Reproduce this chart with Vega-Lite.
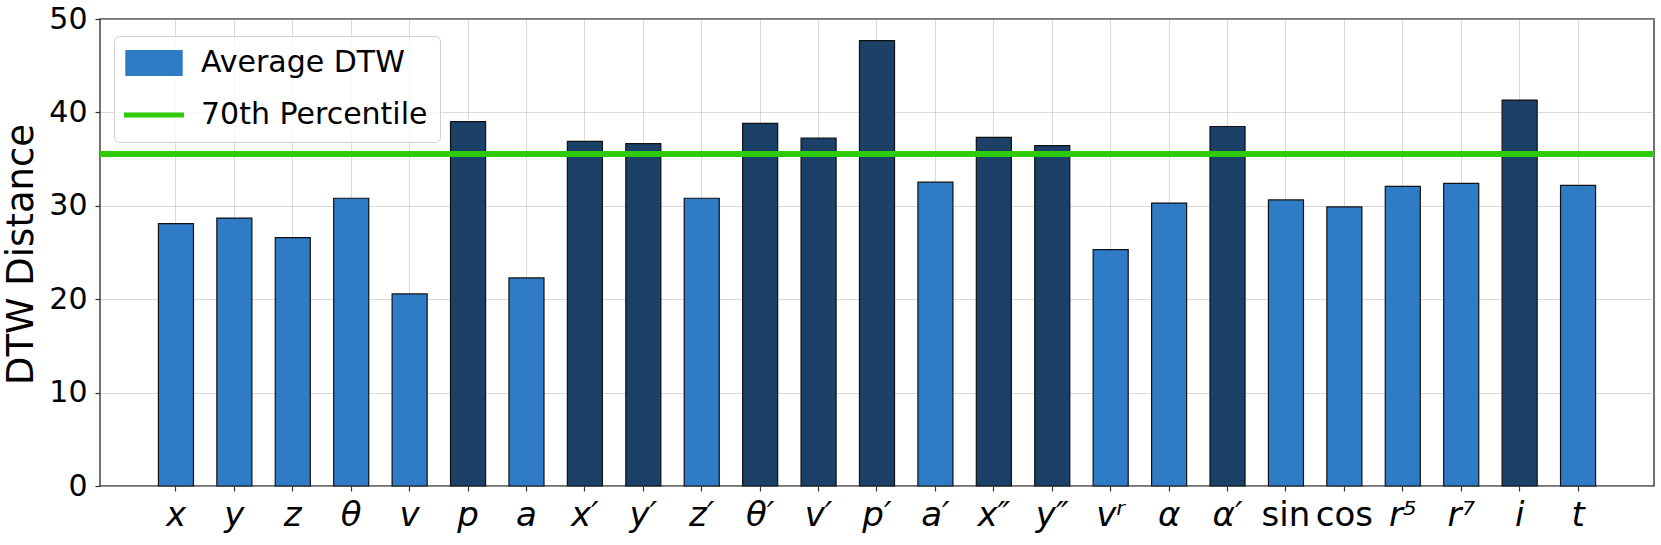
{
  "$schema": "https://vega.github.io/schema/vega-lite/v6.json",
  "autosize": {"type": "none"},
  "padding": {"left": 100, "top": 19, "right": 7, "bottom": 59},
  "width": 1554,
  "height": 467,
  "background": "white",
  "data": {
    "values": [
      {"feature": "x", "dtw": 28.09},
      {"feature": "y", "dtw": 28.69},
      {"feature": "z", "dtw": 26.60},
      {"feature": "θ", "dtw": 30.81},
      {"feature": "v", "dtw": 20.57},
      {"feature": "p", "dtw": 39.01},
      {"feature": "a", "dtw": 22.28},
      {"feature": "x′", "dtw": 36.89},
      {"feature": "y′", "dtw": 36.66},
      {"feature": "z′", "dtw": 30.81},
      {"feature": "θ′", "dtw": 38.82},
      {"feature": "v′", "dtw": 37.26},
      {"feature": "p′", "dtw": 47.69},
      {"feature": "a′", "dtw": 32.53},
      {"feature": "x″", "dtw": 37.33},
      {"feature": "y″", "dtw": 36.44},
      {"feature": "vʳ", "dtw": 25.30},
      {"feature": "α", "dtw": 30.29},
      {"feature": "α′", "dtw": 38.49},
      {"feature": "sin", "dtw": 30.63},
      {"feature": "cos", "dtw": 29.88},
      {"feature": "r⁵", "dtw": 32.08},
      {"feature": "r⁷", "dtw": 32.41},
      {"feature": "i", "dtw": 41.32},
      {"feature": "t", "dtw": 32.19}
    ]
  },
  "layer": [
    {
      "mark": {"type": "bar", "stroke": "#111", "strokeWidth": 1.2},
      "encoding": {
        "x": {
          "field": "feature", "type": "nominal", "sort": null,
          "scale": {"paddingInner": 0.4, "paddingOuter": 1.225},
          "axis": {
            "title": null, "labelAngle": 0, "bandPosition": 0.5,
            "labelFontSize": 34, "labelFont": "DejaVu Sans",
            "labelFontStyle": {"condition": {"test": "datum.value === 'sin' || datum.value === 'cos'", "value": "normal"}, "value": "italic"},
            "labelPadding": 7
          }
        },
        "y": {
          "field": "dtw", "type": "quantitative",
          "scale": {"domain": [0, 50], "nice": false},
          "axis": {
            "values": [0, 10, 20, 30, 40, 50],
            "title": "DTW Distance",
            "titleFontSize": 37, "titleFont": "DejaVu Sans", "titleFontWeight": "normal",
            "titleX": -79, "titleY": 235, "titleBaseline": "middle", "titleAlign": "center",
            "labelFontSize": 30, "labelFont": "DejaVu Sans",
            "labelPadding": 8
          }
        },
        "color": {
          "datum": "Average DTW",
          "condition": {"test": "datum.dtw > 35.58", "value": "#1b4169"},
          "scale": {"domain": ["Average DTW", "70th Percentile"], "range": ["#2f7bc5", "#2fcb0a"]},
          "legend": {
            "orient": "none", "legendX": 14, "legendY": 17, "title": null,
            "labelFont": "DejaVu Sans", "labelFontSize": 30, "labelColor": "#000", "labelLimit": 400,
            "symbolSize": 1521, "rowPadding": 22, "padding": 12,
            "symbolOffset": 13, "labelOffset": 32,
            "strokeColor": "#d0d0d0", "cornerRadius": 5, "fillColor": "rgba(255,255,255,0.8)",
            "encode": {
              "symbols": {
                "update": {
                  "shape": {"signal": "datum.value === 'Average DTW' ? 'M-1.44,-0.63H1.44V0.63H-1.44Z' : 'M-1.54,0H1.54'"},
                  "fill": {"signal": "datum.value === 'Average DTW' ? '#2f7bc5' : 'transparent'"},
                  "stroke": {"signal": "datum.value === 'Average DTW' ? '#111' : '#2fcb0a'"},
                  "strokeWidth": {"signal": "datum.value === 'Average DTW' ? 1.2 : 5"},
                  "opacity": {"value": 1},
                  "fillOpacity": {"value": 1},
                  "strokeOpacity": {"value": 1}
                }
              }
            }
          }
        }
      }
    },
    {
      "mark": {"type": "rule", "strokeWidth": 5},
      "encoding": {
        "y": {"datum": 35.58},
        "color": {
          "datum": "70th Percentile",
          "legend": {
            "orient": "none", "legendX": 14, "legendY": 17, "title": null,
            "labelFont": "DejaVu Sans", "labelFontSize": 30, "labelColor": "#000", "labelLimit": 400,
            "symbolSize": 1521, "rowPadding": 22, "padding": 12,
            "symbolOffset": 13, "labelOffset": 32,
            "strokeColor": "#d0d0d0", "cornerRadius": 5, "fillColor": "rgba(255,255,255,0.8)",
            "encode": {
              "symbols": {
                "update": {
                  "shape": {"signal": "datum.value === 'Average DTW' ? 'M-1.44,-0.63H1.44V0.63H-1.44Z' : 'M-1.54,0H1.54'"},
                  "fill": {"signal": "datum.value === 'Average DTW' ? '#2f7bc5' : 'transparent'"},
                  "stroke": {"signal": "datum.value === 'Average DTW' ? '#111' : '#2fcb0a'"},
                  "strokeWidth": {"signal": "datum.value === 'Average DTW' ? 1.2 : 5"},
                  "opacity": {"value": 1},
                  "fillOpacity": {"value": 1},
                  "strokeOpacity": {"value": 1}
                }
              }
            }
          }
        }
      }
    }
  ],
  "config": {
    "view": {"stroke": "#444", "strokeWidth": 1.5},
    "axis": {
      "domain": false,
      "grid": true,
      "gridColor": "#b0b0b0",
      "gridOpacity": 0.45,
      "gridWidth": 1,
      "ticks": true,
      "tickSize": 5,
      "tickColor": "#333",
      "tickWidth": 1.2,
      "labelColor": "#000",
      "titleColor": "#000",
      "zindex": 1
    }
  }
}
